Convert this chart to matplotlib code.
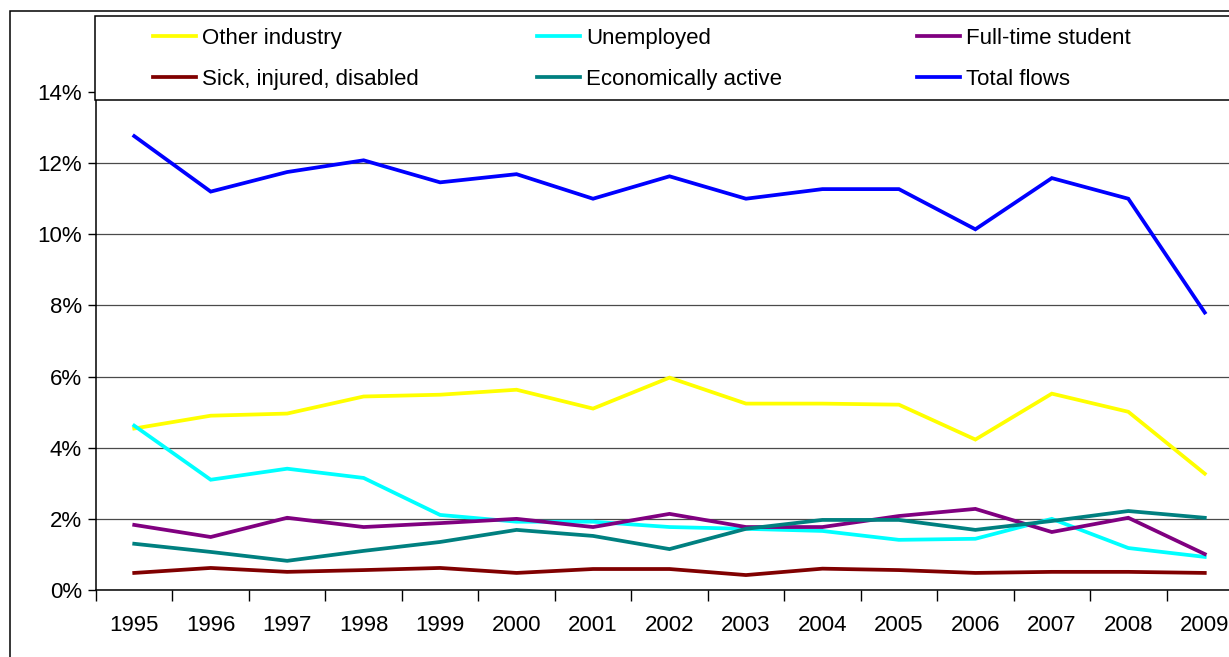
import numpy as np
import matplotlib.pyplot as plt
from matplotlib.patches import Rectangle
from matplotlib.lines import Line2D

plt.rcParams['font.family'] = ['Liberation Sans', 'DejaVu Sans']

years = [str(y) for y in range(1995, 2010)]
other_industry = [4.54, 4.90, 4.96, 5.44, 5.49, 5.63, 5.10, 5.97, 5.24, 5.24, 5.21, 4.23, 5.52, 5.01, 3.27]
unemployed = [4.62, 3.10, 3.41, 3.15, 2.11, 1.92, 1.92, 1.77, 1.72, 1.66, 1.41, 1.44, 2.00, 1.18, 0.93]
fulltime_student = [1.83, 1.49, 2.03, 1.77, 1.88, 2.00, 1.77, 2.14, 1.77, 1.77, 2.08, 2.28, 1.63, 2.03, 1.01]
sick = [0.48, 0.62, 0.51, 0.56, 0.62, 0.48, 0.59, 0.59, 0.42, 0.60, 0.56, 0.48, 0.51, 0.51, 0.48]
econ_active = [1.30, 1.07, 0.82, 1.10, 1.35, 1.69, 1.52, 1.15, 1.72, 1.97, 1.97, 1.69, 1.94, 2.22, 2.03]
total_flows = [12.76, 11.20, 11.75, 12.08, 11.46, 11.69, 11.00, 11.63, 11.00, 11.27, 11.27, 10.14, 11.58, 11.00, 7.80]

series = [
    ('Other industry', other_industry, '#FFFF00'),
    ('Unemployed', unemployed, '#00FFFF'),
    ('Full-time student', fulltime_student, '#800080'),
    ('Sick, injured, disabled', sick, '#800000'),
    ('Economically active', econ_active, '#008080'),
    ('Total flows', total_flows, '#0000FF'),
]

W, H = 1229, 657
fig = plt.figure(figsize=(W / 100, H / 100), dpi=100)
ax = fig.add_axes([96 / W, 1 - 590 / H, 1147 / W, 498 / H])

x = np.arange(len(years))
for name, vals, col in series:
    ax.plot(x, np.array(vals) / 100, color=col, lw=2.7, solid_joinstyle='miter')

ax.set_xlim(-0.5, len(years) - 0.5)
ax.set_ylim(0, 0.14)
ax.set_yticks(np.arange(0, 0.141, 0.02))
ax.set_yticklabels([f'{int(round(v * 100))}%' for v in np.arange(0, 0.141, 0.02)])
ax.set_xticks(x)
ax.set_xticklabels(years)
ax.set_xticks(np.arange(-0.5, len(years)), minor=True)
ax.tick_params(axis='x', which='major', length=0, pad=18, labelsize=16)
ax.tick_params(axis='x', which='minor', length=8, width=1)
ax.tick_params(axis='y', length=6, width=1, pad=4, labelsize=16)
ax.grid(axis='y', color='#4a4a4a', lw=0.9)
ax.set_axisbelow(True)
for s in ['top', 'right']:
    ax.spines[s].set_visible(False)
for s in ['left', 'bottom']:
    ax.spines[s].set_linewidth(1.1)

# outer chart border
fig.add_artist(Rectangle((10 / W, -0.1), 1.2, 1.1 - 11 / H, transform=fig.transFigure,
                         fill=False, ec='black', lw=1.1, zorder=4))

# legend box
fig.add_artist(Rectangle((95 / W, 1 - 100 / H), 1.2, 84 / H, transform=fig.transFigure,
                         fc='white', ec='black', lw=1.1, zorder=5))
col_x = [153, 537, 917]
row_y = [36, 77]
for i, (name, vals, col) in enumerate(series):
    cx = col_x[i % 3]
    cy = 1 - row_y[i // 3] / H
    fig.add_artist(Line2D([cx / W, (cx + 43) / W], [cy, cy], transform=fig.transFigure,
                          color=col, lw=2.7, zorder=6))
    fig.text((cx + 49) / W, cy, name, fontsize=16, va='center_baseline', ha='left', zorder=6)

fig.savefig('out.png', dpi=100)
